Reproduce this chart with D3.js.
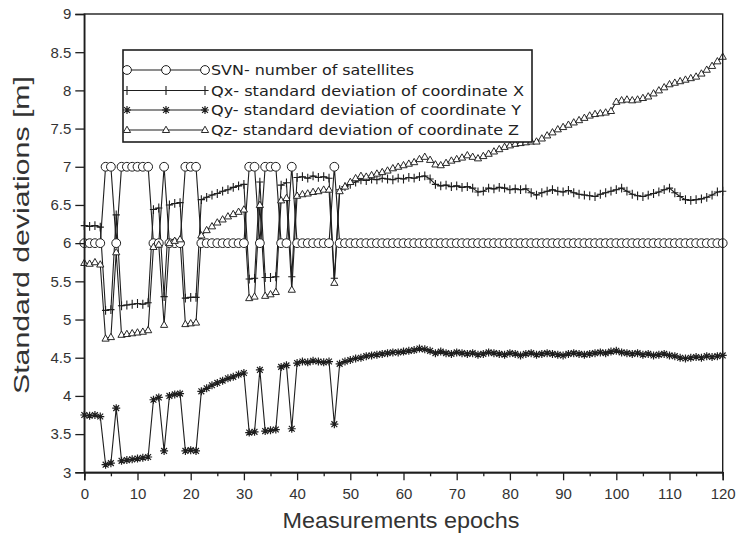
<!DOCTYPE html>
<html><head><meta charset="utf-8">
<script src="https://cdn.jsdelivr.net/npm/d3@7"></script>
<style>body{margin:0;background:#fff}</style>
</head><body>
<svg id="c" width="740" height="536"></svg>
<script>
// ---- data (index = measurement epoch 0..120) ----
const svn = [6,6,6,6,7,7,6,7,7,7,7,7,7,6,6,7,6,6,6,7,7,7,6,6,6,6,6,6,6,6,6,7,7,6,7,7,7,6,6,7,6,6,6,6,6,6,6,7,
6,6,6,6,6,6,6,6,6,6,
6,6,6,6,6,6,6,6,6,6,
6,6,6,6,6,6,6,6,6,6,
6,6,6,6,6,6,6,6,6,6,
6,6,6,6,6,6,6,6,6,6,
6,6,6,6,6,6,6,6,6,6,
6,6,6,6,6,6,6,6,6,6,
6,6,6];
const qx = [6.23,6.22,6.23,6.21,5.12,5.13,6.37,5.18,5.19,5.20,5.21,5.20,5.22,6.44,6.46,5.30,6.50,6.52,6.53,5.28,5.29,5.29,
6.57,6.60,6.63,6.65,6.68,6.70,6.73,6.75,6.77,5.53,5.54,6.80,5.55,5.55,5.56,6.76,6.79,5.56,6.86,6.87,6.85,6.88,6.86,6.87,6.85,5.54,
6.70,6.74,6.77,6.80,6.83,6.82,6.84,6.83,6.85,6.84,6.83,6.85,6.84,6.86,6.85,6.87,6.88,6.84,6.77,6.75,6.76,6.74,6.75,6.73,6.74,6.72,
6.67,6.68,6.72,6.71,6.73,6.72,6.70,6.71,6.70,6.71,6.66,6.63,6.66,6.68,6.70,6.68,6.67,6.69,6.66,6.64,6.63,6.62,6.61,6.64,6.66,6.68,
6.70,6.72,6.68,6.64,6.62,6.61,6.63,6.65,6.67,6.70,6.72,6.66,6.61,6.57,6.56,6.57,6.58,6.60,6.63,6.67,6.68];
const qy = [3.75,3.74,3.75,3.73,3.10,3.12,3.84,3.15,3.16,3.17,3.18,3.19,3.20,3.95,3.98,3.28,4.00,4.02,4.03,3.28,3.29,3.28,
4.06,4.10,4.14,4.17,4.20,4.23,4.25,4.28,4.30,3.52,3.53,4.34,3.54,3.55,3.56,4.38,4.40,3.57,4.43,4.45,4.44,4.46,4.45,4.44,4.45,3.63,
4.42,4.45,4.47,4.49,4.50,4.52,4.53,4.54,4.55,4.56,4.57,4.57,4.58,4.59,4.60,4.62,4.61,4.59,4.56,4.58,4.56,4.55,4.57,4.56,4.55,4.56,
4.54,4.55,4.57,4.56,4.55,4.54,4.56,4.55,4.53,4.55,4.56,4.54,4.55,4.56,4.55,4.54,4.53,4.55,4.56,4.55,4.54,4.55,4.56,4.57,4.56,4.58,
4.59,4.57,4.56,4.55,4.56,4.54,4.55,4.53,4.54,4.55,4.53,4.52,4.50,4.49,4.50,4.51,4.50,4.52,4.51,4.52,4.53];
const qz = [5.74,5.73,5.75,5.72,4.75,4.77,5.88,4.80,4.81,4.82,4.83,4.84,4.86,5.95,5.98,4.93,6.00,6.03,6.05,4.94,4.95,4.96,
6.10,6.17,6.22,6.27,6.31,6.35,6.38,6.41,6.44,5.28,5.30,6.50,5.31,5.33,5.36,6.56,6.59,5.39,6.62,6.64,6.65,6.67,6.68,6.70,6.70,5.48,
6.68,6.74,6.80,6.85,6.88,6.87,6.89,6.91,6.93,6.95,6.98,7.00,7.02,7.04,7.06,7.10,7.13,7.09,7.03,7.02,7.05,7.08,7.10,7.12,7.15,7.13,
7.11,7.14,7.17,7.20,7.23,7.26,7.28,7.30,7.31,7.32,7.33,7.33,7.37,7.41,7.45,7.49,7.52,7.55,7.58,7.61,7.64,7.67,7.69,7.70,7.71,7.73,
7.85,7.87,7.88,7.87,7.88,7.90,7.92,7.96,8.00,8.04,8.08,8.10,8.12,8.14,8.16,8.18,8.22,8.27,8.32,8.38,8.44];
const xTicks = [0,10,20,30,40,50,60,70,80,90,100,110,120];
const xMinorTicks = [5,15,25,35,45,55,65,75,85,95,105,115];
const yTicks = [3,3.5,4,4.5,5,5.5,6,6.5,7,7.5,8,8.5,9];
const legendLabels = [
  "SVN- number of satellites",
  "Qx- standard deviation of coordinate X",
  "Qy- standard deviation of coordinate Y",
  "Qz- standard deviation of coordinate Z"
];

// ---- layout ----
const L = 84.3, R = 722.7, T = 14, B = 472.3;
const svg = d3.select("#c");
const x = d3.scaleLinear().domain([0,120]).range([L,R]);
const y = d3.scaleLinear().domain([3,9]).range([B,T]);
const INK = "#1e1e1e";

// marker shapes
const markers = {
  circle: (g) => g.append("circle").attr("r",4.4).attr("fill","#fff").attr("stroke",INK).attr("stroke-width",1),
  plus: (g) => g.append("path").attr("d","M-3.6,0H3.6M0,-4.4V4.4").attr("stroke",INK).attr("stroke-width",1.1).attr("fill","none"),
  star: (g) => g.append("path").attr("d","M-4,0H4M0,-4V4M-2.9,-2.9L2.9,2.9M-2.9,2.9L2.9,-2.9").attr("stroke",INK).attr("stroke-width",1.2).attr("fill","none"),
  tri: (g) => g.append("path").attr("d","M0,-3.8L3.6,2.5H-3.6Z").attr("fill","#fff").attr("stroke",INK).attr("stroke-width",0.95)
};

const series = [
  {vals: svn, m: "circle"},
  {vals: qx, m: "plus"},
  {vals: qy, m: "star"},
  {vals: qz, m: "tri"}
];

const line = d3.line().x((d,i)=>x(i)).y(d=>y(d));
const plot = svg.append("g");
series.forEach(s => {
  plot.append("path").datum(s.vals).attr("d", line)
    .attr("fill","none").attr("stroke",INK).attr("stroke-width",1.1);
});
series.forEach(s => {
  const g = plot.append("g");
  s.vals.forEach((v,i) => {
    const mg = g.append("g").attr("transform",`translate(${x(i)},${y(v)})`);
    markers[s.m](mg);
  });
});

// frame
svg.append("rect").attr("x",L).attr("y",T).attr("width",R-L).attr("height",B-T)
  .attr("fill","none").attr("stroke",INK).attr("stroke-width",1.4);

// axes
const fontTick = "'Liberation Sans', Arial, sans-serif";
const xa = svg.append("g").attr("transform",`translate(0,${B})`)
  .call(d3.axisBottom(x).tickValues(xTicks).tickSize(8).tickPadding(8).tickFormat(d3.format("d")));
const xm = svg.append("g").attr("transform",`translate(0,${B})`)
  .call(d3.axisBottom(x).tickValues(xMinorTicks).tickSize(4).tickFormat(""));
const ya = svg.append("g").attr("transform",`translate(${L},0)`)
  .call(d3.axisLeft(y).tickValues(yTicks).tickSize(9).tickPadding(4).tickFormat(d=>String(d)));
[xa,xm,ya].forEach(a=>{
  a.select(".domain").attr("stroke",INK).attr("stroke-width",1.4);
  a.selectAll(".tick line").attr("stroke",INK).attr("stroke-width",1.3);
  a.selectAll("text").attr("font-family",fontTick).attr("font-size",15).attr("fill","#333");
});

// axis titles
svg.append("text").attr("x",401).attr("y",528).attr("text-anchor","middle")
  .attr("font-family",fontTick).attr("font-size",22).attr("fill","#333")
  .attr("textLength",237).attr("lengthAdjust","spacingAndGlyphs")
  .text("Measurements epochs");
svg.append("text").attr("transform","translate(29,235) rotate(-90)").attr("text-anchor","middle")
  .attr("font-family",fontTick).attr("font-size",22).attr("fill","#333")
  .attr("textLength",318).attr("lengthAdjust","spacingAndGlyphs")
  .text("Standard deviations [m]");

// legend
const lg = svg.append("g");
lg.append("rect").attr("x",123).attr("y",50).attr("width",409).attr("height",92)
  .attr("fill","#fff").attr("stroke",INK).attr("stroke-width",1.6);
const rowY = [70, 90.5, 110, 130];
const legW = [203, 313, 310, 308];
const mkPos = [127, 166, 205];
series.forEach((s,k)=>{
  lg.append("line").attr("x1",mkPos[0]).attr("x2",mkPos[2]).attr("y1",rowY[k]).attr("y2",rowY[k])
    .attr("stroke",INK).attr("stroke-width",1.1);
  mkPos.forEach(px=>{
    const mg = lg.append("g").attr("transform",`translate(${px},${rowY[k]})`);
    markers[s.m](mg);
  });
  lg.append("text").attr("x",211).attr("y",rowY[k]+5).attr("font-family","'DejaVu Sans', Verdana, sans-serif")
    .attr("font-size",13.5).attr("fill","#222")
    .attr("textLength",legW[k]).attr("lengthAdjust","spacingAndGlyphs")
    .text(legendLabels[k]);
});
</script>
</body></html>
